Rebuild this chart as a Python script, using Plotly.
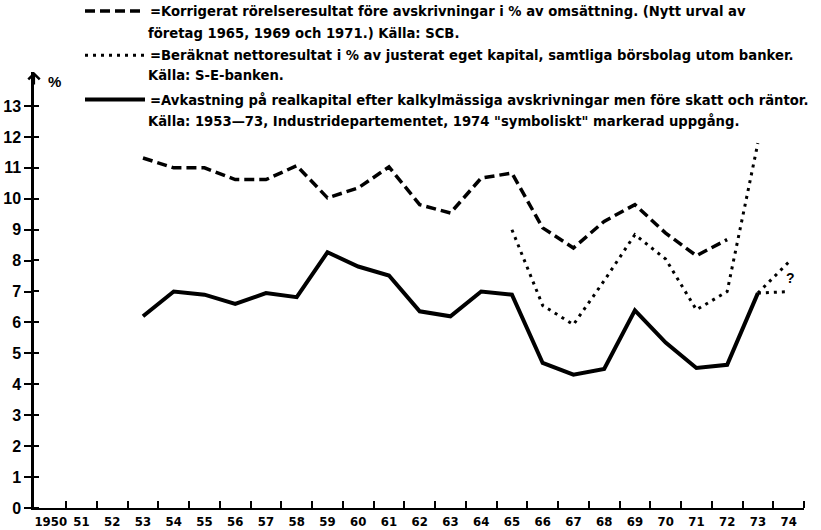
import plotly.graph_objects as go

# ---------------- data ----------------
years_dash = list(range(1953, 1973))
korrigerat = [11.32, 11.0, 11.0, 10.62, 10.62, 11.07, 10.03, 10.35, 11.03, 9.81,
              9.54, 10.67, 10.83, 9.06, 8.41, 9.27, 9.81, 8.89, 8.16, 8.68]

years_dot = list(range(1965, 1974))
nettoresultat = [9.0, 6.55, 5.93, 7.35, 8.84, 8.05, 6.41, 7.0, 11.8]

years_solid = list(range(1953, 1974))
avkastning = [6.2, 7.0, 6.9, 6.6, 6.95, 6.82, 8.27, 7.81, 7.52, 6.36, 6.2,
              7.0, 6.9, 4.69, 4.31, 4.5, 6.39, 5.35, 4.53, 4.63, 6.95]

years_1974 = [1973, 1974]
avk_1974_high = [6.95, 7.95]
avk_1974_low = [6.95, 7.0]

tick_years = list(range(1950, 1975))
tick_text = ["1950"] + [str(y)[2:] for y in tick_years[1:]]
y_ticks = list(range(0, 14))

legend_line1 = [
    "=Korrigerat rörelseresultat före avskrivningar i % av omsättning. (Nytt urval av",
    "=Beräknat nettoresultat i % av justerat eget kapital, samtliga börsbolag utom banker.",
    "=Avkastning på realkapital efter kalkylmässiga avskrivningar men före skatt och räntor.",
]
legend_line2 = [
    "företag 1965, 1969 och 1971.) Källa: SCB.",
    "Källa: S-E-banken.",
    "Källa: 1953—73, Industridepartementet, 1974 \"symboliskt\" markerad uppgång.",
]

# ---------------- layout constants ----------------
W, H = 821, 530
ML, MR, MT, MB = 34, 17, 72, 22
PW, PH = W - ML - MR, H - MT - MB
XR = [1949.455, 1974.5]
YR = [0, 14.1]

def px(xp):
    return (xp - ML) / PW

def py(yp):
    return (H - MB - yp) / PH

TXT = dict(family="DejaVu Sans, Verdana, sans-serif", size=13.2, color="black", weight="bold")

fig = go.Figure()
fig.add_trace(go.Scatter(x=years_dash, y=korrigerat, mode="lines", name=legend_line1[0],
                         legendgroup="a",
                         line=dict(color="black", width=3.5, dash="10px,5px")))
fig.add_trace(go.Scatter(x=years_dot, y=nettoresultat, mode="lines", name=legend_line1[1],
                         legendgroup="b",
                         line=dict(color="black", width=3, dash="3px,5px")))
fig.add_trace(go.Scatter(x=years_solid, y=avkastning, mode="lines", name=legend_line1[2],
                         legendgroup="c",
                         line=dict(color="black", width=4)))
for ys in (avk_1974_high, avk_1974_low):
    fig.add_trace(go.Scatter(x=years_1974, y=ys, mode="lines", showlegend=False,
                             line=dict(color="black", width=3, dash="3px,5px")))

annotations = []
for t, yy in zip(legend_line2, (33, 76, 121)):
    annotations.append(dict(text=t, x=px(146), y=py(yy), xref="paper", yref="paper",
                            xanchor="left", yanchor="middle", showarrow=False, font=TXT))
annotations.append(dict(text="%", x=px(46), y=py(81), xref="paper", yref="paper",
                        xanchor="left", yanchor="middle", showarrow=False,
                        font=dict(family="Liberation Sans, Arial", size=15, color="black", weight="bold")))
annotations.append(dict(text="?", x=1974.05, y=7.45, xref="x", yref="y",
                        xanchor="center", yanchor="middle", showarrow=False,
                        font=dict(family="Liberation Sans, Arial", size=14, color="black", weight="bold")))
annotations.append(dict(text="", x=0, y=1, xref="paper", yref="paper", ax=0, ay=14,
                        showarrow=True, arrowhead=4, arrowwidth=2.2, arrowsize=1.0,
                        arrowcolor="black"))

fig.update_layout(
    width=W, height=H,
    margin=dict(l=ML, r=MR, t=MT, b=MB, pad=0, autoexpand=False),
    paper_bgcolor="white", plot_bgcolor="white",
    showlegend=True,
    legend=dict(x=px(80), y=py(-4), xanchor="left", yanchor="top",
                bgcolor="rgba(0,0,0,0)", borderwidth=0, font=TXT,
                tracegroupgap=24, itemwidth=60, traceorder="grouped"),
    annotations=annotations,
    xaxis=dict(range=XR, showgrid=False, zeroline=False, showline=True,
               linecolor="black", linewidth=2,
               tickmode="array", tickvals=tick_years, ticktext=tick_text, ticks="",
               tickfont=dict(family="Liberation Sans Narrow, DejaVu Sans Condensed, Liberation Sans",
                             size=13, color="black", weight="bold"),
               minor=dict(tickmode="array", tickvals=[y + 0.5 for y in tick_years],
                          ticks="inside", ticklen=7, tickwidth=2, tickcolor="black",
                          showgrid=False)),
    yaxis=dict(range=YR, showgrid=False, zeroline=False, showline=True,
               linecolor="black", linewidth=2.5,
               tickmode="array", tickvals=y_ticks, ticks="outside", ticklen=7,
               tickwidth=2, tickcolor="black",
               tickfont=dict(family="Liberation Sans, Arial", size=16, color="black", weight="bold"),
               minor=dict(tickmode="array", tickvals=[v + 0.005 for v in y_ticks],
                          ticks="inside", ticklen=5, tickwidth=2, tickcolor="black",
                          showgrid=False)),
)

fig.write_html("out.html",
               config={"displayModeBar": False},
               post_script="document.body.style.margin='0';document.body.style.overflow='hidden';")
